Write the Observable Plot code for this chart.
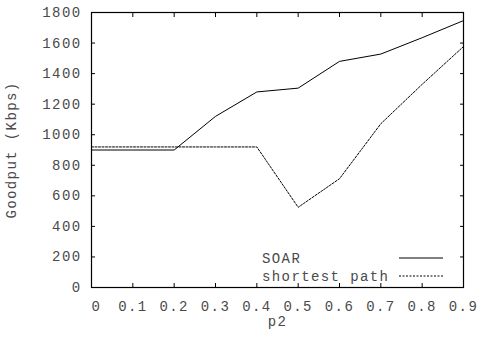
<!DOCTYPE html>
<html>
<head>
<meta charset="utf-8">
<script src="https://cdn.jsdelivr.net/npm/d3@7"></script>
<script src="https://cdn.jsdelivr.net/npm/@observablehq/plot@0.6"></script>
<style>
  html, body { margin: 0; padding: 0; background: #fff; }
  #chart { position: relative; width: 481px; height: 337px; }
  #chart svg text { letter-spacing: 1.4px; }
</style>
</head>
<body>
<div id="chart"></div>
<script>
const p2 = [0, 0.1, 0.2, 0.3, 0.4, 0.5, 0.6, 0.7, 0.8, 0.9];
const soar = [900, 900, 900, 1120, 1280, 1305, 1480, 1528, 1635, 1747];
const shortestPath = [920, 920, 920, 920, 920, 525, 712, 1072, 1330, 1577];
const seriesNames = ["SOAR", "shortest path"];
const xTicks = [0, 0.1, 0.2, 0.3, 0.4, 0.5, 0.6, 0.7, 0.8, 0.9];
const yTicks = [0, 200, 400, 600, 800, 1000, 1200, 1400, 1600, 1800];

const rows = p2.flatMap((x, i) => [
  {x, y: soar[i], s: seriesNames[0]},
  {x, y: shortestPath[i], s: seriesNames[1]}
]);

const font = "'Liberation Mono', 'DejaVu Sans Mono', monospace";
const textColor = "#4a4a4a";

const chart = Plot.plot({
  width: 481,
  height: 337,
  marginLeft: 91,
  marginRight: 18,
  marginTop: 12,
  marginBottom: 50,
  style: {fontFamily: font, fontSize: "14px", color: textColor, background: "#fff"},
  x: {domain: [0, 0.9], label: null},
  y: {domain: [0, 1800], label: null},
  marks: [
    Plot.axisX({ticks: xTicks, tickSize: -4, tickPadding: 18, tickFormat: d => d === 0 ? "\u00a00" : String(d), stroke: "#000", fill: textColor, fontSize: 14, label: "p2", labelAnchor: "center", labelArrow: "none", labelOffset: 38}),
    Plot.axisX({anchor: "top", ticks: xTicks, tickSize: -4, text: null, label: null, stroke: "#000"}),
    Plot.axisY({ticks: yTicks, tickSize: -4, tickPadding: 14, tickFormat: d => String(d), stroke: "#000", fill: textColor, fontSize: 14, label: "Goodput (Kbps)", labelAnchor: "center", labelArrow: "none", labelOffset: 85}),
    Plot.axisY({anchor: "right", ticks: yTicks, tickSize: -4, text: null, label: null, stroke: "#000"}),
    Plot.frame({stroke: "#000", strokeWidth: 1.2}),
    Plot.line(rows.filter(d => d.s === seriesNames[0]), {x: "x", y: "y", stroke: "#000", strokeWidth: 1}),
    Plot.line(rows.filter(d => d.s === seriesNames[1]), {x: "x", y: "y", stroke: "#000", strokeWidth: 1, strokeDasharray: "2,1.5"})
  ]
});

document.getElementById("chart").appendChild(chart);

// Legend (inside the plot, bottom-right), drawn into the plot's SVG
const svg = d3.select(chart);
const legend = svg.append("g").attr("font-family", font).attr("font-size", 14).attr("fill", textColor).attr("text-anchor", "start");
seriesNames.forEach((name, i) => {
  const yy = 258 + i * 18;
  legend.append("text").attr("x", 262).attr("y", yy).attr("dy", "0.35em").text(name);
  legend.append("line").attr("x1", 399).attr("x2", 443).attr("y1", yy).attr("y2", yy)
    .attr("stroke", "#000").attr("stroke-width", 1)
    .attr("stroke-dasharray", i === 1 ? "2,1.5" : null);
});
</script>
</body>
</html>
